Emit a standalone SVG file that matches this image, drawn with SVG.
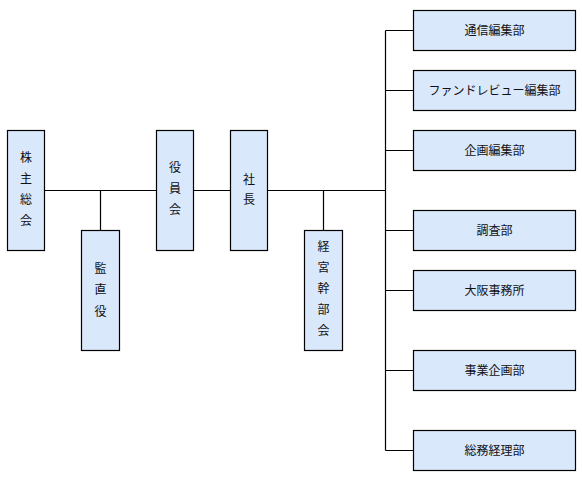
<svg xmlns="http://www.w3.org/2000/svg" width="582" height="481" viewBox="0 0 582 481">
<style>
.box{fill:#dae8fc;stroke:#000;stroke-width:1.2}
.t{font-family:"Noto Sans CJK JP","Noto Sans",sans-serif;font-size:12px;fill:#111;text-anchor:middle}
.ln{stroke:#000;stroke-width:1.2;fill:none}
</style>
<rect width="582" height="481" fill="#fff"/>
<g id="connectors">
<path class="ln" d="M44.5 190.5H156.5M100.5 190.5V230.5M193.5 190.5H230.5M267.5 190.5H385.5M323.5 190.5V230.5M385.5 30.5V450.5M385.5 30.5H413.5M385.5 90.5H413.5M385.5 150.5H413.5M385.5 230.5H413.5M385.5 290.5H413.5M385.5 370.5H413.5M385.5 450.5H413.5"/>
</g>
<g id="kabunushi">
<rect class="box" x="7.5" y="130.5" width="37" height="120"/>
<text class="t" x="26" y="162">株</text>
<text class="t" x="26" y="183">主</text>
<text class="t" x="26" y="204">総</text>
<text class="t" x="26" y="225">会</text>
</g>
<g id="kansayaku">
<rect class="box" x="81.5" y="230.5" width="38" height="120"/>
<text class="t" x="100.5" y="272.5">監</text>
<text class="t" x="100.5" y="294">直</text>
<text class="t" x="100.5" y="315.5">役</text>
</g>
<g id="yakuinkai">
<rect class="box" x="156.5" y="130.5" width="37" height="120"/>
<text class="t" x="175" y="172">役</text>
<text class="t" x="175" y="193">員</text>
<text class="t" x="175" y="214">会</text>
</g>
<g id="shacho">
<rect class="box" x="230.5" y="130.5" width="37" height="120"/>
<text class="t" x="249" y="183.5">社</text>
<text class="t" x="249" y="204">長</text>
</g>
<g id="keiei">
<rect class="box" x="304.5" y="230.5" width="38" height="120"/>
<text class="t" x="323.5" y="251">経</text>
<text class="t" x="323.5" y="272">宮</text>
<text class="t" x="323.5" y="293">幹</text>
<text class="t" x="323.5" y="314">部</text>
<text class="t" x="323.5" y="335">会</text>
</g>
<g id="tsushin">
<rect class="box" x="413.5" y="10.5" width="162" height="40"/>
<text class="t" x="494.5" y="34.5">通信編集部</text>
</g>
<g id="fundreview">
<rect class="box" x="413.5" y="70.5" width="162" height="40"/>
<text class="t" x="494.5" y="94.5">ファンドレビュー編集部</text>
</g>
<g id="kikakuhen">
<rect class="box" x="413.5" y="130.5" width="162" height="40"/>
<text class="t" x="494.5" y="154.5">企画編集部</text>
</g>
<g id="chosa">
<rect class="box" x="413.5" y="210.5" width="162" height="40"/>
<text class="t" x="494.5" y="234.5">調査部</text>
</g>
<g id="osaka">
<rect class="box" x="413.5" y="270.5" width="162" height="40"/>
<text class="t" x="494.5" y="294.5">大阪事務所</text>
</g>
<g id="jigyo">
<rect class="box" x="413.5" y="350.5" width="162" height="40"/>
<text class="t" x="494.5" y="374.5">事業企画部</text>
</g>
<g id="somu">
<rect class="box" x="413.5" y="430.5" width="162" height="40"/>
<text class="t" x="494.5" y="454.5">総務経理部</text>
</g>
</svg>
